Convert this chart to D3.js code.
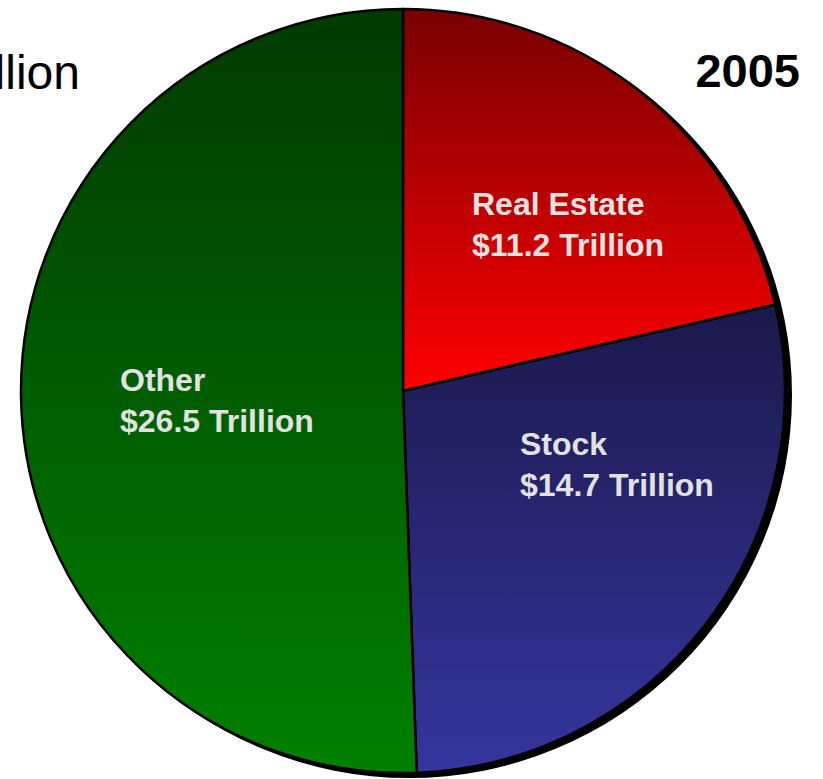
<!DOCTYPE html>
<html>
<head>
<meta charset="utf-8">
<script src="https://cdn.jsdelivr.net/npm/d3@7/dist/d3.min.js"></script>
<style>
  html, body { margin: 0; padding: 0; background: #fff; }
  svg { display: block; }
</style>
</head>
<body>
<svg id="chart" width="823" height="779"></svg>
<script>
// Household wealth by asset class, 2005 (trillions of dollars)
const categories = ["Real Estate", "Stock", "Other"];
const values = [11.2, 14.7, 26.5];
const yearLabel = "2005";

// Vertical gradient stops per slice: [top, bottom]
const gradientStops = [
  ["#780000", "#ff0000"],
  ["#1a194a", "#35359e"],
  ["#003a00", "#008000"]
];

const data = categories.map((c, i) => ({ name: c, value: values[i], stops: gradientStops[i] }));
const total = d3.sum(values);

const svg = d3.select("#chart");
const cx = 403, cy = 391, r = 382;

const defs = svg.append("defs");
data.forEach((d, i) => {
  const g = defs.append("linearGradient")
    .attr("id", "grad" + i)
    .attr("x1", 0).attr("y1", 0).attr("x2", 0).attr("y2", 1);
  g.append("stop").attr("offset", "0%").attr("stop-color", d.stops[0]);
  g.append("stop").attr("offset", "100%").attr("stop-color", d.stops[1]);
});

const pie = d3.pie().sort(null).value(d => d.value);
const arc = d3.arc().innerRadius(0).outerRadius(r);
const arcs = pie(data);

// Drop shadow behind the pie
svg.append("circle")
  .attr("cx", cx + 6).attr("cy", cy + 4).attr("r", r + 1)
  .attr("fill", "#000");

const g = svg.append("g").attr("transform", `translate(${cx},${cy})`);

g.selectAll("path.slice")
  .data(arcs)
  .join("path")
  .attr("class", "slice")
  .attr("d", arc)
  .attr("fill", (d, i) => `url(#grad${i})`)
  .attr("stroke", "#000")
  .attr("stroke-width", 2.5)
  .attr("stroke-linejoin", "round");

// Slice labels: name and value on two lines
const labelPos = {
  "Real Estate": [472, 215],
  "Stock": [520, 455],
  "Other": [120, 391]
};

const labels = svg.append("g")
  .attr("font-family", "Liberation Sans, Arial, sans-serif")
  .attr("font-weight", "bold")
  .attr("font-size", 32)
  .attr("fill", "#e2e2e2");

data.forEach(d => {
  const [x, y] = labelPos[d.name];
  const t = labels.append("text").attr("x", x).attr("y", y);
  t.append("tspan").attr("x", x).text(d.name);
  t.append("tspan").attr("x", x).attr("dy", 41).text(`$${d.value.toFixed(1)} Trillion`);
});

// Total heading (runs off the left edge) and year
svg.append("text")
  .attr("x", 80).attr("y", 89)
  .attr("text-anchor", "end")
  .attr("font-family", "Liberation Sans, Arial, sans-serif")
  .attr("font-size", 48)
  .attr("fill", "#000")
  .text(`Total: $${total.toFixed(1)} Trillion`);

svg.append("text")
  .attr("x", 800).attr("y", 87)
  .attr("text-anchor", "end")
  .attr("font-family", "Liberation Sans, Arial, sans-serif")
  .attr("font-weight", "bold")
  .attr("font-size", 47)
  .attr("fill", "#000")
  .text(yearLabel);
</script>
</body>
</html>
